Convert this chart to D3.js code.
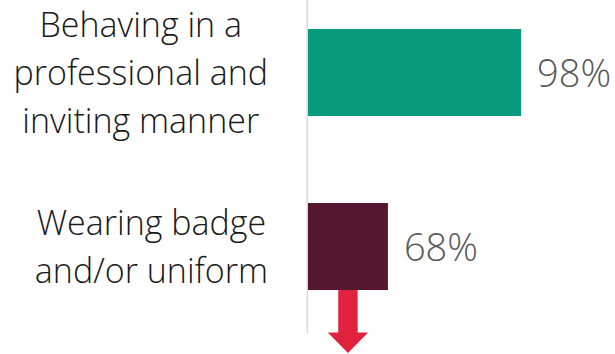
<!DOCTYPE html>
<html>
<head>
<meta charset="utf-8">
<script src="https://cdn.jsdelivr.net/npm/d3@7"></script>
<style>
  html, body { margin: 0; padding: 0; background: #fff; }
  svg { display: block; }
</style>
</head>
<body>
<svg id="chart" width="615" height="354"></svg>
<script>
// Share of observations meeting each standard
const categories = [
  ["Behaving in a", "professional and", "inviting manner"],
  ["Wearing badge", "and/or uniform"]
];
const values = [98, 68];
const barColors = ["#079a7c", "#54172f"];
const valueLabels = ["98%", "68%"];

const svg = d3.select("#chart");

const x = d3.scaleLinear().domain([50, 100]).range([308, 530]);
const y = d3.scaleBand()
  .domain(d3.range(values.length))
  .range([-58, 377])
  .paddingInner(0.5)
  .paddingOuter(0.5);

const font = "'Open Sans', 'Segoe UI', sans-serif";

// bars
svg.selectAll("rect.bar")
  .data(values)
  .join("rect")
  .attr("class", "bar")
  .attr("x", x(50))
  .attr("y", (d, i) => y(i))
  .attr("width", d => x(d) - x(50))
  .attr("height", y.bandwidth())
  .attr("fill", (d, i) => barColors[i]);

// downward arrow under the lower bar
const arrowX = (x(50) + x(values[1])) / 2;
const arrowTop = y(1) + y.bandwidth();
const arrow = d3.path();
arrow.moveTo(arrowX - 9.7, arrowTop);
arrow.lineTo(arrowX + 9.7, arrowTop);
arrow.lineTo(arrowX + 9.7, 332.5);
arrow.lineTo(arrowX + 20.2, 332.5);
arrow.lineTo(arrowX, 353);
arrow.lineTo(arrowX - 20.2, 332.5);
arrow.lineTo(arrowX - 9.7, 332.5);
arrow.closePath();
svg.append("path").attr("d", arrow.toString()).attr("fill", "#e0223f");

// vertical baseline
svg.append("line")
  .attr("x1", x(50) - 0.75).attr("x2", x(50) - 0.75)
  .attr("y1", 0).attr("y2", 333)
  .attr("stroke", "#d9d9d9")
  .attr("stroke-width", 1.5);

// category labels: lines centred within a right-aligned block
const lineH = 48;
const blockRight = 268;
categories.forEach((lines, i) => {
  const cy = y(i) + y.bandwidth() / 2;
  const g = svg.append("g");
  const texts = g.selectAll("text")
    .data(lines)
    .join("text")
    .attr("y", (d, k) => cy + (k - (lines.length - 1) / 2) * lineH + 12)
    .attr("font-family", font)
    .attr("font-weight", 300)
    .attr("font-size", 34)
    .attr("fill", "#1a1a1a")
    .attr("text-anchor", "middle")
    .text(d => d);
  const widths = texts.nodes().map(n => n.getComputedTextLength());
  const bw = d3.max(widths);
  texts.attr("x", blockRight - bw / 2);
});

// value labels
svg.selectAll("text.val")
  .data(values)
  .join("text")
  .attr("class", "val")
  .attr("x", d => x(d) + 16)
  .attr("y", (d, i) => y(i) + y.bandwidth() / 2 + 14)
  .attr("font-family", font)
  .attr("font-weight", 300)
  .attr("font-size", 38)
  .attr("fill", "#595959")
  .text((d, i) => valueLabels[i]);
</script>
</body>
</html>
